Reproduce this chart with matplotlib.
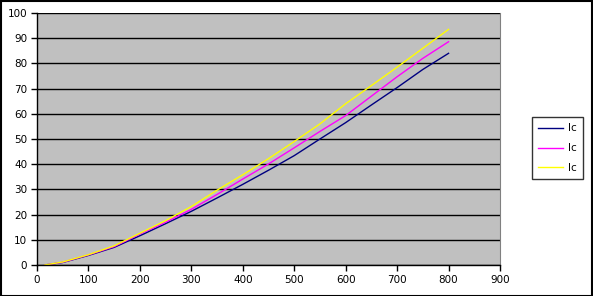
import matplotlib
matplotlib.use("Agg")
import matplotlib.pyplot as plt

x = [15, 50, 100, 150, 200, 250, 300, 350, 400, 450, 500, 550, 600, 650, 700, 750, 800]
navy = [0, 1.0, 3.8, 7.0, 11.6, 16.4, 21.3, 26.6, 32.0, 37.6, 43.4, 50.0, 56.5, 63.5, 70.4, 77.6, 84.0]
magenta = [0, 1.1, 4.0, 7.3, 12.3, 17.0, 22.1, 28.0, 34.1, 40.1, 46.5, 53.0, 59.3, 67.0, 74.7, 82.0, 88.6]
yellow = [0, 1.2, 4.1, 7.6, 12.6, 17.6, 23.2, 29.7, 35.8, 42.2, 49.0, 56.0, 64.0, 71.2, 78.5, 86.0, 93.5]
labels = ["Ic", "Ic", "Ic"]
xticks = list(range(0, 901, 100))
yticks = list(range(0, 101, 10))

plt.rcParams['font.family'] = ['DejaVu Sans']
fig = plt.figure(figsize=(5.93, 2.96), dpi=100)
W, H = 593, 296
ax = fig.add_axes([37 / W, (H - 265) / H, 463 / W, 252 / H])
ax.set_facecolor('#c0c0c0')

ax.plot(x, navy, color='#000080', lw=1, label=labels[0])
ax.plot(x, magenta, color='#ff00ff', lw=1, label=labels[1])
ax.plot(x, yellow, color='#ffff00', lw=1, label=labels[2])

ax.set_xlim(0, 900)
ax.set_ylim(0, 100)
ax.set_xticks(xticks)
ax.set_yticks(yticks)
ax.yaxis.grid(True, color='black', lw=1)
ax.set_axisbelow(True)
ax.tick_params(axis='both', direction='out', length=4, width=1, labelsize=7.5, pad=3, colors='black')
for s in ['left', 'bottom']:
    ax.spines[s].set_color('black')
    ax.spines[s].set_linewidth(1)
ax.spines['top'].set_visible(False)
ax.spines['right'].set_color('#808080')

leg = fig.legend(loc='upper left', bbox_to_anchor=(532 / W, 1 - 117 / H),
                 frameon=True, fancybox=False, edgecolor='black', fontsize=7.5,
                 handlelength=2.35, handletextpad=0.5, borderpad=0.6, labelspacing=0.95,
                 borderaxespad=0)
leg.get_frame().set_linewidth(1)

border = plt.Rectangle((0.5 / W, 0.5 / H), 1 - 1.5 / W, 1 - 1.5 / H, transform=fig.transFigure,
                       fill=False, edgecolor='black', lw=1.5)
fig.patches.append(border)

fig.savefig('out.png', dpi=100)
